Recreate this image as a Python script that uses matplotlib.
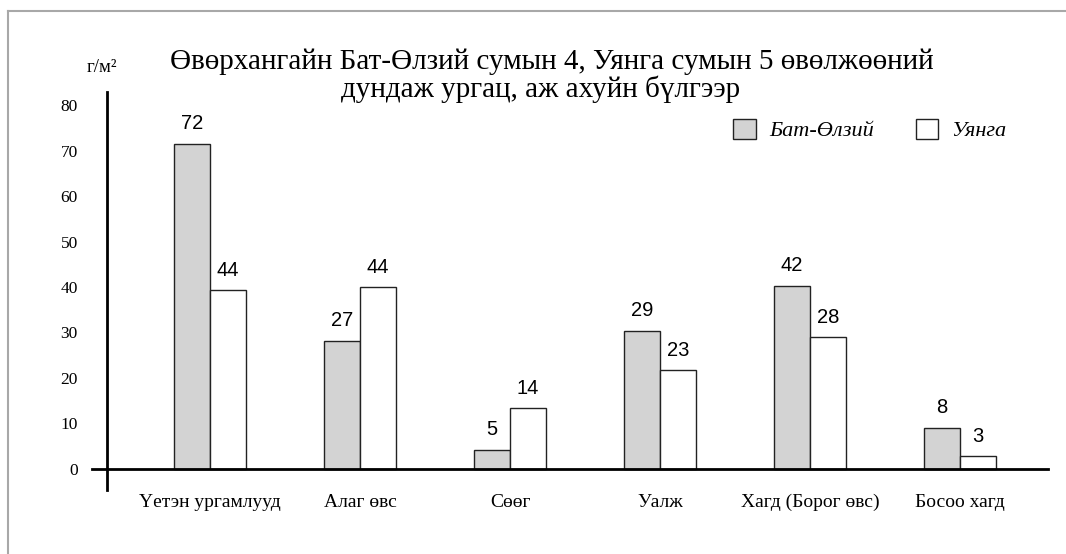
import matplotlib
matplotlib.use("Agg")
import matplotlib.pyplot as plt
from matplotlib.lines import Line2D
from matplotlib.patches import Patch
import numpy as np

# ====== DATA ======
categories = ["Үетэн ургамлууд", "Алаг өвс", "Сөөг", "Уалж", "Хагд (Борог өвс)", "Босоо хагд"]
bat_heights = [71.4, 28.1, 4.2, 30.3, 40.2, 9.0]      # bar heights as drawn
uyanga_heights = [39.3, 40.0, 13.4, 21.8, 29.0, 2.9]
bat_labels = [72, 27, 5, 29, 42, 8]                   # printed values
uyanga_labels = [44, 44, 14, 23, 28, 3]
yticks = [0, 10, 20, 30, 40, 50, 60, 70, 80]

serif = "Liberation Serif"
sans = "Liberation Sans"

fig = plt.figure(figsize=(10.66, 5.54), dpi=100)
ax = fig.add_axes([92 / 1066, 64 / 554, 956 / 1066, 398 / 554])

x = np.arange(len(categories))
w = 0.24
ax.bar(x - w / 2, bat_heights, w, color="#d3d3d3", edgecolor="#222222", linewidth=1)
ax.bar(x + w / 2, uyanga_heights, w, color="white", edgecolor="#222222", linewidth=1)

for i in range(len(categories)):
    ax.annotate(str(bat_labels[i]), (x[i] - w / 2, bat_heights[i]), xytext=(0, 8),
                textcoords="offset points", ha="center", va="bottom", fontsize=14.5, family=sans)
    ax.annotate(str(uyanga_labels[i]), (x[i] + w / 2, uyanga_heights[i]), xytext=(0, 7),
                textcoords="offset points", ha="center", va="bottom", fontsize=14.5, family=sans)

ax.set_xlim(-0.787, 5.587)
ax.set_ylim(-4.62, 82.86)

ax.spines["top"].set_visible(False)
ax.spines["right"].set_visible(False)
ax.spines["bottom"].set_position(("data", 0))
ax.spines["left"].set_position(("data", -0.687))
ax.spines["bottom"].set_linewidth(2)
ax.spines["left"].set_linewidth(2)
ax.spines["bottom"].set_zorder(5)

ax.set_xticks(x)
ax.set_xticklabels(categories, family=serif, fontsize=14)
ax.set_yticks(yticks)
ax.set_yticklabels([str(v) for v in yticks], family=serif, fontsize=12.5)
ax.tick_params(axis="x", length=0, pad=18)
ax.tick_params(axis="y", length=0, pad=21)

# title and unit
fig.text(552 / 1066, 1 - 62 / 554, "Өвөрхангайн Бат-Өлзий сумын 4, Уянга сумын 5 өвөлжөөний",
         ha="center", va="center", fontsize=21, family=serif)
fig.text(541 / 1066, 1 - 89 / 554, "дундаж ургац, аж ахуйн бүлгээр",
         ha="center", va="center", fontsize=21, family=serif)
fig.text(102 / 1066, 1 - 68 / 554, "г/м²", ha="center", va="center", fontsize=13.5, family=serif)

# legend
handles = [Patch(facecolor="#d3d3d3", edgecolor="#222222", label="Бат-Өлзий"),
           Patch(facecolor="white", edgecolor="#222222", label="Уянга")]
ax.legend(handles=handles, loc="center", bbox_to_anchor=(870 / 1066, 1 - 130 / 554),
          bbox_transform=fig.transFigure, ncol=2, frameon=False,
          prop={"family": serif, "style": "italic", "size": 16},
          handlelength=1.0, handleheight=1.0, columnspacing=1.9, handletextpad=0.6)

# outer border
fig.add_artist(Line2D([8 / 1066, 1], [1 - 11 / 554, 1 - 11 / 554], color="#a8a8a8", lw=1.5))
fig.add_artist(Line2D([8 / 1066, 8 / 1066], [0, 1 - 11 / 554], color="#a8a8a8", lw=1.5))

fig.savefig("out.png", dpi=100)
